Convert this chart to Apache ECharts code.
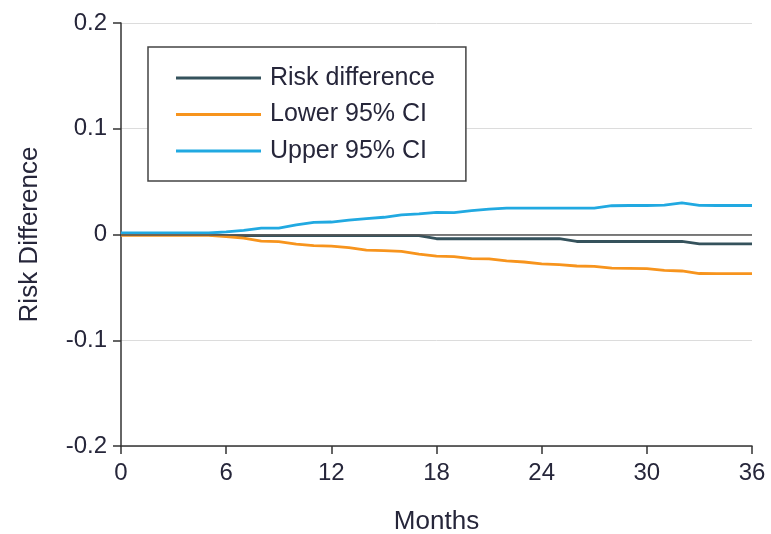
<!DOCTYPE html>
<html>
<head>
<meta charset="utf-8">
<title>Risk Difference</title>
<script src="https://cdn.jsdelivr.net/npm/echarts@6/dist/echarts.min.js"></script>
<style>
  html, body { margin: 0; padding: 0; background: #fff; }
  #chart { width: 771px; height: 534px; }
</style>
</head>
<body>
<div id="chart"></div>
<script>
// Follow-up time in months
const months = [0,1,2,3,4,5,6,7,8,9,10,11,12,13,14,15,16,17,18,19,20,21,22,23,24,25,26,27,28,29,30,31,32,33,34,35,36];

// Cumulative risk difference and its 95% confidence limits
const riskDifference = [0,0,0,0,0,0,-0.001,-0.001,-0.001,-0.001,-0.001,-0.001,-0.001,-0.001,-0.001,-0.001,-0.001,-0.001,-0.004,-0.004,-0.004,-0.004,-0.004,-0.004,-0.004,-0.004,-0.0066,-0.0066,-0.0066,-0.0066,-0.0066,-0.0066,-0.0066,-0.0088,-0.0088,-0.0088,-0.0088];
const lower95 = [-0.0008,-0.0008,-0.0008,-0.0008,-0.0008,-0.0008,-0.002,-0.0035,-0.0063,-0.0068,-0.0092,-0.0105,-0.011,-0.0125,-0.0148,-0.0153,-0.016,-0.0185,-0.0205,-0.021,-0.0228,-0.023,-0.025,-0.026,-0.0277,-0.0284,-0.0298,-0.0302,-0.0318,-0.032,-0.0322,-0.034,-0.0345,-0.0369,-0.037,-0.037,-0.037];
const upper95 = [0.0015,0.0015,0.0015,0.0015,0.0015,0.0015,0.0025,0.004,0.006,0.006,0.009,0.0115,0.0118,0.0135,0.015,0.0163,0.0186,0.0195,0.021,0.0207,0.0225,0.024,0.025,0.025,0.025,0.025,0.025,0.025,0.0272,0.0274,0.0274,0.0278,0.030,0.0275,0.0274,0.0274,0.0274];

const seriesNames = ['Risk difference', 'Lower 95% CI', 'Upper 95% CI'];
const seriesColors = ['#35525c', '#f7941d', '#21a9e1'];

const FONT = '"Liberation Sans", Arial, sans-serif';
const TEXT = '#26263a';

const pairs = vals => months.map((m, i) => [m, vals[i]]);

const chart = echarts.init(document.getElementById('chart'), null, { renderer: 'canvas' });

const lineSeries = (name, vals, color, extra) => Object.assign({
  name: name,
  type: 'line',
  data: pairs(vals),
  showSymbol: false,
  symbol: 'none',
  smooth: false,
  lineStyle: { color: color, width: 2.8 },
  itemStyle: { color: color },
  emphasis: { disabled: true },
  animation: false
}, extra || {});

chart.setOption({
  backgroundColor: '#ffffff',
  animation: false,
  textStyle: { fontFamily: FONT },
  grid: { left: 121, right: 19, top: 23, bottom: 88, containLabel: false, outerBoundsMode: 'none' },
  legend: {
    orient: 'vertical',
    left: 148,
    top: 47,
    data: seriesNames,
    icon: 'rect',
    itemWidth: 85,
    itemHeight: 3,
    itemGap: 10.5,
    padding: [18, 31, 17, 28],
    backgroundColor: '#ffffff',
    borderColor: '#444444',
    borderWidth: 1.5,
    borderRadius: 0,
    selectedMode: false,
    textStyle: { fontFamily: FONT, fontSize: 25, lineHeight: 26, color: TEXT, padding: [0, 0, 0, 4] }
  },
  xAxis: {
    type: 'value',
    min: 0,
    max: 36,
    interval: 6,
    name: 'Months',
    nameLocation: 'middle',
    nameGap: 63,
    nameTextStyle: { fontFamily: FONT, fontSize: 26, color: TEXT },
    axisLine: { show: true, onZero: false, lineStyle: { color: '#333', width: 1.5 } },
    axisTick: { show: true, length: 8, lineStyle: { color: '#333', width: 1.5 } },
    axisLabel: { fontFamily: FONT, fontSize: 24, color: TEXT, margin: 15 },
    splitLine: { show: false }
  },
  yAxis: {
    type: 'value',
    min: -0.2,
    max: 0.2,
    interval: 0.1,
    name: 'Risk Difference',
    nameLocation: 'middle',
    nameGap: 78,
    nameTextStyle: { fontFamily: FONT, fontSize: 26, color: TEXT },
    axisLine: { show: true, lineStyle: { color: '#333', width: 1.5 } },
    axisTick: { show: true, length: 8, lineStyle: { color: '#333', width: 1.5 } },
    axisLabel: {
      fontFamily: FONT, fontSize: 24, color: TEXT, margin: 14,
      formatter: v => (Math.abs(v) < 1e-9 ? '0' : v.toFixed(1))
    },
    splitLine: { show: true, lineStyle: { color: '#dcdcdc', width: 1 } }
  },
  series: [
    lineSeries(seriesNames[0], riskDifference, seriesColors[0], {
      markLine: {
        silent: true,
        symbol: 'none',
        label: { show: false },
        lineStyle: { color: '#555555', width: 1.6, type: 'solid' },
        data: [{ yAxis: 0 }],
        animation: false
      }
    }),
    lineSeries(seriesNames[1], lower95, seriesColors[1]),
    lineSeries(seriesNames[2], upper95, seriesColors[2])
  ]
});
</script>
</body>
</html>
